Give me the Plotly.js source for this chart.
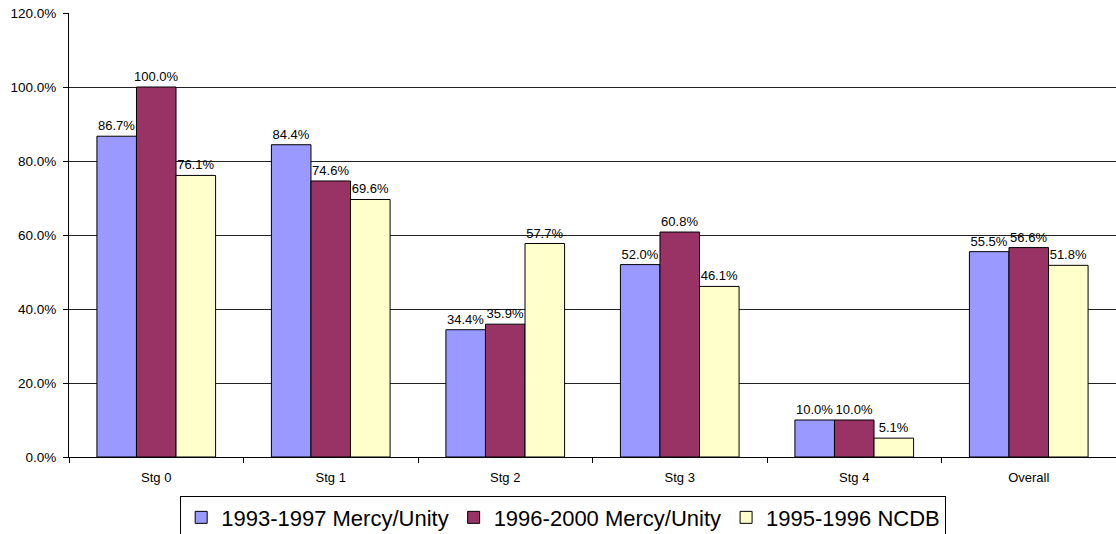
<!DOCTYPE html>
<html>
<head>
<meta charset="utf-8">
<script src="https://cdn.plot.ly/plotly-3.0.1.min.js"></script>
<style>html,body{margin:0;padding:0;background:#fff;}#chart{width:1116px;height:534px;}</style>
</head>
<body>
<div id="chart"></div>
<script>
const categories = ["Stg 0", "Stg 1", "Stg 2", "Stg 3", "Stg 4", "Overall"];
const seriesNames = ["1993-1997 Mercy/Unity", "1996-2000 Mercy/Unity", "1995-1996 NCDB"];
const mercy9397 = [86.7, 84.4, 34.4, 52.0, 10.0, 55.5];
const mercy9600 = [100.0, 74.6, 35.9, 60.8, 10.0, 56.6];
const ncdb9596 = [76.1, 69.6, 57.7, 46.1, 5.1, 51.8];
const yTicks = [0, 20, 40, 60, 80, 100, 120];

const colors = ["#9999FF", "#993366", "#FFFFCC"];
const allSeries = [mercy9397, mercy9600, ncdb9596];

const traces = allSeries.map((vals, i) => ({
  type: "bar",
  name: seriesNames[i],
  x: categories,
  y: vals,
  marker: {color: colors[i], line: {color: "#000000", width: 1}},
  texttemplate: "%{y:.1f}%",
  textposition: "outside",
  textfont: {family: "Arial, Liberation Sans, sans-serif", size: 13, color: "#000"},
  constraintext: "none",
  cliponaxis: false,
  hoverinfo: "skip"
}));

const layout = {
  width: 1116, height: 534,
  margin: {l: 69, r: 0, t: 13, b: 77},
  paper_bgcolor: "#fff", plot_bgcolor: "#fff",
  barmode: "group",
  bargap: 0.32,
  bargroupgap: 0,
  font: {family: "Arial, Liberation Sans, sans-serif", color: "#000"},
  xaxis: {
    showline: true, linecolor: "#000", linewidth: 1,
    ticks: "outside", tickson: "boundaries", ticklen: 5, tickcolor: "#000",
    tickfont: {size: 13, color: "#000"},
    ticklabelstandoff: 8,
    showgrid: false,
    automargin: false
  },
  yaxis: {
    range: [0, 120],
    tickvals: yTicks,
    ticktext: yTicks.map(v => v.toFixed(1) + "%"),
    showline: true, linecolor: "#000", linewidth: 1,
    ticks: "outside", ticklen: 5, tickcolor: "#000",
    tickfont: {size: 13.5, color: "#000"},
    ticklabelstandoff: 4,
    showgrid: true, gridcolor: "#222", gridwidth: 1,
    zeroline: false,
    automargin: false
  },
  showlegend: true,
  legend: {
    orientation: "h",
    x: 0.472, xanchor: "center",
    yref: "container",
    y: 0.072, yanchor: "top",
    bordercolor: "#000", borderwidth: 1,
    bgcolor: "#fff",
    font: {size: 22, color: "#000"},
    itemclick: false
  }
};

Plotly.newPlot("chart", traces, layout, {displayModeBar: false, staticPlot: true});
</script>
</body>
</html>
